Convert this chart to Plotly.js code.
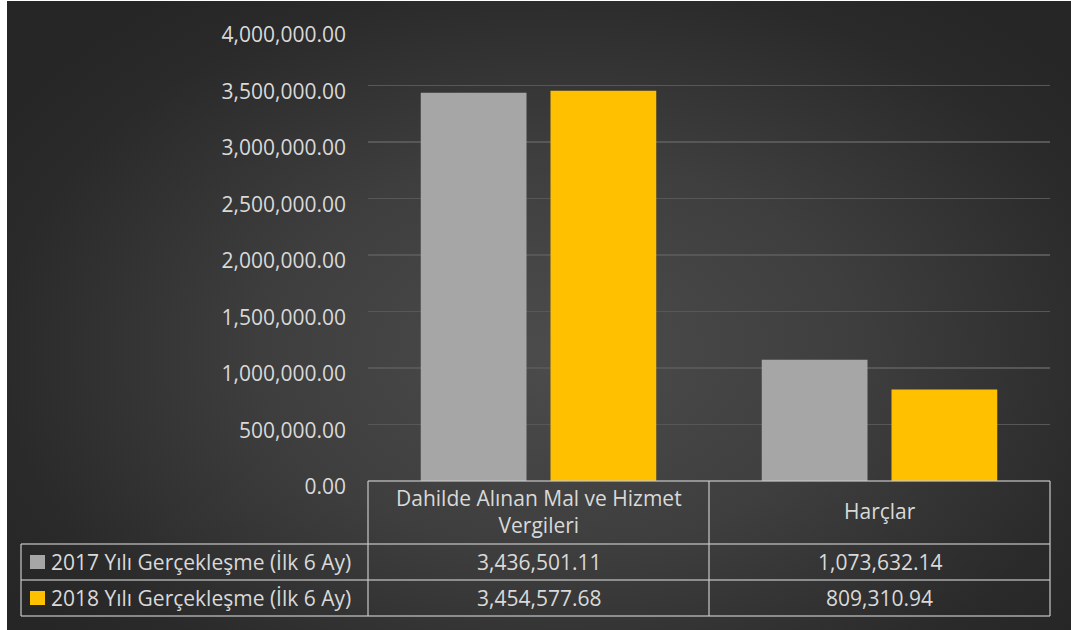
<!DOCTYPE html>
<html>
<head>
<meta charset="utf-8">
<script src="https://cdn.plot.ly/plotly-3.0.1.min.js"></script>
<style>
  html, body { margin: 0; padding: 0; background: #ffffff; width: 1071px; height: 630px; overflow: hidden; }
  #chart {
    position: absolute; left: 7px; top: 1px; width: 1064px; height: 629px;
    background: radial-gradient(ellipse 62% 70% at 52% 56%, #4c4c4c 0%, #3e3e3e 45%, #2a2a2a 85%, #262626 100%);
  }
</style>
</head>
<body>
<div id="chart"></div>
<script>
// ---- data ----
const categories = ['Dahilde Alınan Mal ve Hizmet Vergileri', 'Harçlar'];
const headerLabels = ['Dahilde Alınan Mal ve Hizmet<br>Vergileri', 'Harçlar'];
const seriesNames = ['2017 Yılı Gerçekleşme (İlk 6 Ay)', '2018 Yılı Gerçekleşme (İlk 6 Ay)'];
const values2017 = [3436501.11, 1073632.14];
const values2018 = [3454577.68, 809310.94];
const yTicks = [0, 500000, 1000000, 1500000, 2000000, 2500000, 3000000, 3500000, 4000000];

// ---- styling ----
const FONT = 'Open Sans, Noto Sans, sans-serif';
const TEXT = '#d9d9d9';
const GRAY = '#a6a6a6';
const GOLD = '#ffc000';
const LINE = 'rgba(200,200,200,0.8)';

// layout geometry (reference pixel coords -> paper)
const OX = 7, OY = 1;
const M = { l: 361, r: 21, t: 28, b: 149 };
const W = 1064, H = 629;
const PW = W - M.l - M.r, PH = H - M.t - M.b;
const px = x => (x - OX - M.l) / PW;
const py = y => (H - M.b - (y - OY)) / PH;

const fmt = v => v.toLocaleString('en-US', { minimumFractionDigits: 2, maximumFractionDigits: 2 });

const traces = [
  { type: 'bar', name: seriesNames[0], x: categories, y: values2017, marker: { color: GRAY }, hoverinfo: 'skip' },
  { type: 'bar', name: seriesNames[1], x: categories, y: values2018, marker: { color: GOLD }, hoverinfo: 'skip' }
];

const line = (x0, y0, x1, y1) => ({
  type: 'line', xref: 'paper', yref: 'paper', x0: px(x0), y0: py(y0), x1: px(x1), y1: py(y1),
  line: { color: LINE, width: 1.5 }, layer: 'above'
});

const shapes = [
  line(368, 481, 1050, 481),
  line(368, 481, 368, 616),
  line(709, 481, 709, 616),
  line(1050, 481, 1050, 616),
  line(21, 544, 1050, 544),
  line(21, 580, 1050, 580),
  line(21, 616, 1050, 616),
  line(21, 544, 21, 616),
  { type: 'rect', xref: 'paper', yref: 'paper', x0: px(30), x1: px(45), y0: py(569), y1: py(555), fillcolor: GRAY, line: { width: 0 } },
  { type: 'rect', xref: 'paper', yref: 'paper', x0: px(30), x1: px(45), y0: py(605), y1: py(591), fillcolor: GOLD, line: { width: 0 } }
];

const annFont = { family: FONT, size: 21, color: TEXT };
const annotations = [];
categories.forEach((c, i) => {
  annotations.push({ xref: 'x', yref: 'paper', x: c, y: py(511), text: headerLabels[i], showarrow: false,
    xanchor: 'center', yanchor: 'middle', font: annFont });
  annotations.push({ xref: 'x', yref: 'paper', x: c, y: py(562), text: fmt(values2017[i]), showarrow: false,
    xanchor: 'center', yanchor: 'middle', font: annFont });
  annotations.push({ xref: 'x', yref: 'paper', x: c, y: py(598), text: fmt(values2018[i]), showarrow: false,
    xanchor: 'center', yanchor: 'middle', font: annFont });
});
seriesNames.forEach((s, i) => {
  annotations.push({ xref: 'paper', yref: 'paper', x: px(49), y: py(i === 0 ? 562 : 598), text: s, showarrow: false,
    xanchor: 'left', yanchor: 'middle', font: annFont });
});

const layout = {
  width: W, height: H,
  margin: M,
  paper_bgcolor: 'rgba(0,0,0,0)',
  plot_bgcolor: 'rgba(0,0,0,0)',
  showlegend: false,
  barmode: 'group',
  bargap: 0.239,
  bargroupgap: 0.185,
  font: { family: FONT, color: TEXT },
  xaxis: { showticklabels: false, showgrid: false, zeroline: false, showline: false, ticks: '', fixedrange: true },
  yaxis: {
    range: [0, 4000000], tickvals: yTicks, tickformat: ',.2f',
    showgrid: true, gridcolor: '#575757', gridwidth: 1.5,
    zeroline: false, showline: false, ticks: '', ticklabelstandoff: 21, ticklabelshift: 6,
    tickfont: { family: FONT, size: 21, color: TEXT }, fixedrange: true
  },
  shapes: shapes,
  annotations: annotations
};

Plotly.newPlot('chart', traces, layout, { staticPlot: true, displayModeBar: false });
</script>
</body>
</html>
